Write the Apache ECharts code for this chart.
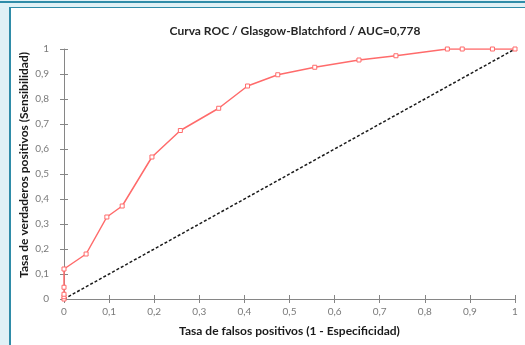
<!DOCTYPE html>
<html>
<head>
<meta charset="utf-8">
<script src="https://cdn.jsdelivr.net/npm/echarts@6/dist/echarts.min.js"></script>
<style>
  html, body { margin: 0; padding: 0; }
  body { width: 525px; height: 345px; background: #e0f1f6; position: relative; overflow: hidden; }
  .topline { position: absolute; left: 0; top: 1px; width: 525px; height: 2px; background: #2f8ca8; }
  .panel { position: absolute; left: 9px; top: 7px; right: 0; bottom: 0; background: #fff;
           border-left: 2px solid #2f8ca8; border-top: 1px solid #2f8ca8; }
  #chart { position: absolute; left: 0; top: 0; width: 525px; height: 345px; }
</style>
</head>
<body>
<div class="topline"></div>
<div class="panel"></div>
<div id="chart"></div>
<script>
// puntos de la curva ROC (1 - especificidad, sensibilidad)
const fpr = [0, 0, 0, 0, 0, 0.049, 0.095, 0.129, 0.195, 0.258, 0.343, 0.407, 0.474, 0.556, 0.654, 0.736, 0.85, 0.883, 0.95, 1];
const tpr = [0, 0.009, 0.019, 0.047, 0.12, 0.18, 0.328, 0.372, 0.568, 0.674, 0.763, 0.852, 0.897, 0.927, 0.956, 0.973, 1, 1, 1, 1];
const diagonal = [[0, 0], [1, 1]];

const chart = echarts.init(document.getElementById("chart"));

const fmt = (v) => String(Math.round(v * 10) / 10).replace(".", ",");
const axisColor = "#868686";
const font = "Lato, 'Liberation Sans', sans-serif";

const baseAxis = {
  type: "value",
  min: 0,
  max: 1,
  interval: 0.1,
  splitLine: { show: false },
};

const option = {
  animation: false,
  backgroundColor: "transparent",
  title: {
    text: "Curva ROC / Glasgow-Blatchford / AUC=0,778",
    left: 290,
    textAlign: "center",
    top: 20,
    textStyle: { fontFamily: font, fontSize: 12, fontWeight: "bold", color: "#262626" },
  },
  // título del eje Y (colocado a mano, el nombre del eje se desplazaba)
  graphic: [
    {
      type: "text",
      x: 24,
      y: 165,
      rotation: Math.PI / 2,
      style: {
        text: "Tasa de verdaderos positivos (Sensibilidad)",
        fontFamily: font,
        fontSize: 12,
        fontWeight: "bold",
        fill: "#1a1a1a",
        align: "center",
        verticalAlign: "middle",
      },
    },
  ],
  grid: { left: 64, right: 10, top: 49, bottom: 46 },
  xAxis: [
    {
      ...baseAxis,
      name: "Tasa de falsos positivos (1 - Especificidad)",
      nameLocation: "middle",
      nameGap: 26,
      nameMoveOverlap: false,
      nameTextStyle: { fontFamily: font, fontSize: 12, fontWeight: "bold", color: "#1a1a1a" },
      axisLine: { lineStyle: { color: axisColor, width: 1 } },
      axisTick: { length: 4, lineStyle: { color: axisColor } },
      axisLabel: {
        formatter: fmt, margin: 8, color: "#7a7a7a",
        fontFamily: font, fontSize: 10, showMaxLabel: true, showMinLabel: true,
      },
    },
    {
      ...baseAxis,
      position: "bottom",
      axisLine: { show: false },
      axisTick: { inside: true, length: 4, lineStyle: { color: axisColor } },
      axisLabel: { show: false },
    },
  ],
  yAxis: [
    {
      ...baseAxis,
      axisLine: { show: true, lineStyle: { color: axisColor, width: 1 } },
      axisTick: { show: true, length: 4, lineStyle: { color: axisColor } },
      axisLabel: { formatter: fmt, margin: 15, color: "#7a7a7a", fontFamily: font, fontSize: 10 },
    },
    {
      ...baseAxis,
      position: "left",
      axisLine: { show: false },
      axisTick: { show: true, inside: true, length: 4, lineStyle: { color: axisColor } },
      axisLabel: { show: false },
    },
  ],
  series: [
    {
      name: "Diagonal",
      type: "line",
      data: diagonal,
      symbol: "none",
      lineStyle: { color: "#1a1a1a", width: 1.5, type: [3, 2] },
      z: 1,
    },
    {
      name: "Glasgow-Blatchford",
      type: "line",
      data: fpr.map((x, i) => [x, tpr[i]]),
      symbol: "rect",
      symbolSize: 4,
      itemStyle: { color: "#fff", borderColor: "#ff6b6b", borderWidth: 1 },
      lineStyle: { color: "#ff6b6b", width: 1.5 },
      z: 2,
    },
  ],
};

chart.setOption(option);
</script>
</body>
</html>
